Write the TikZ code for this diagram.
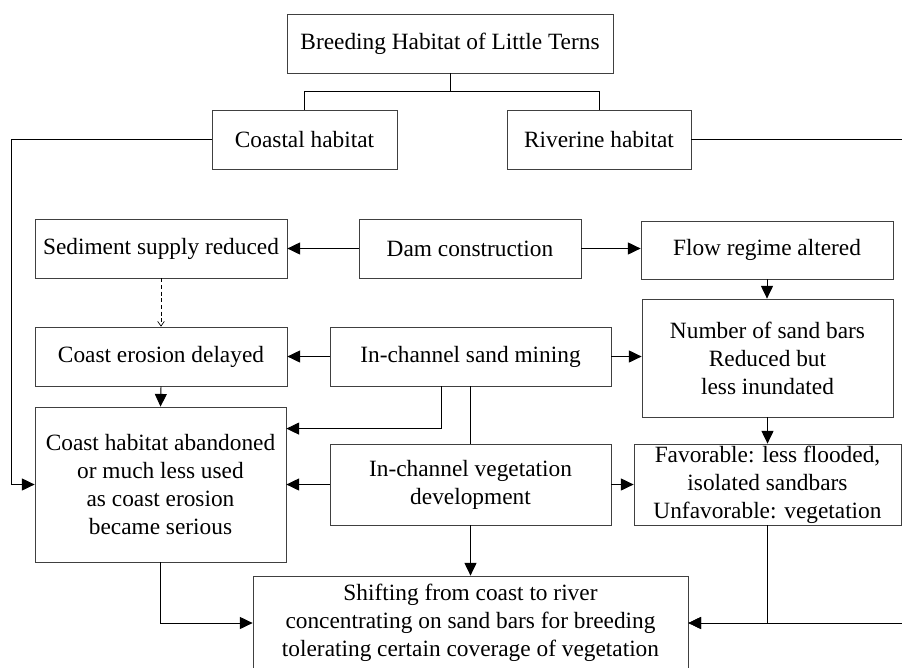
\documentclass[tikz,border=0pt]{standalone}
\usepackage{fontspec}
\setmainfont{Liberation Serif}
\usetikzlibrary{calc,arrows.meta}

\tikzset{
  box/.style 2 args={draw=black!75, line width=0.6pt, rectangle, align=center, inner sep=0pt,
    minimum width=#1*0.75pt, minimum height=#2*0.75pt},
  arr/.style={-{Triangle[length=9.5pt, width=9pt]}, line width=0.7pt},
  dasharr/.style={-{Straight Barb[length=3.5pt, width=5pt]}, dash pattern=on 3pt off 2pt, line width=0.5pt}
}

\begin{document}
\begin{tikzpicture}[x=0.75pt, y=-0.75pt, font={\fontsize{17.5pt}{21pt}\selectfont}]
      \useasboundingbox (0,0) rectangle (902,667);

      \node [box={326}{59}] (title) at (450,43.5) {Breeding Habitat of Little Terns};
      \node [box={185}{59}] (coastal) at (304.5,139.5) {Coastal habitat};
      \node [box={184}{59}] (riverine) at (599,139.5) {Riverine habitat};

      \node [box={252}{59}] (sediment) at (161,248.5) {Sediment supply reduced};
      \node [box={222}{59}] (dam) at (470,248.5) {Dam construction};
      \node [box={252}{58}] (flow) at (767,250) {Flow regime altered};

      \node [box={252}{59}] (erosion) at (161,356.5) {Coast erosion delayed};
      \node [box={281}{59}] (mining) at (470.5,356.5) {In-channel sand mining};
      \node [box={251}{118}] (sandbars) at (767.5,358) {Number of sand bars\\Reduced but\\less inundated};

      \node [box={251}{155}] (abandoned) at (160.5,484.5) {Coast habitat abandoned\\or much less used\\as coast erosion\\became serious};
      \node [box={281}{81}] (vegetation) at (470.5,484.5) {In-channel vegetation\\development};
      \node [box={267}{81}] (favorable) at (767.5,484.5) {Favorable: less flooded,\\isolated sandbars\\Unfavorable: vegetation};

      \node [box={435}{94}] (shifting) at (470.5,623) {Shifting from coast to river\\concentrating on sand bars for breeding\\tolerating certain coverage of vegetation};

      \draw [line width=0.7pt] (title.south) -- ++(0,18) -| (coastal.north);
      \draw [line width=0.7pt] (title.south) -- ++(0,18) -| (riverine.north);
      \draw [arr] (coastal.west) -- ++(-200,0) |- (abandoned.west);
      \draw [arr] (riverine.east) -- ++(225,0) |- (shifting.east);

      \draw [arr] (dam.west) -- (sediment.east);
      \draw [arr] (dam.east) -- (dam.east -| flow.west);
      \draw [dasharr] (sediment.south) -- (erosion.north);
      \draw [arr] (flow.south) -- (flow.south |- sandbars.north);

      \draw [arr] (mining.west) -- (erosion.east);
      \draw [arr] (mining.east) -- (mining.east -| sandbars.west);
      \draw [arr] (erosion.south) -- (abandoned.north);
      \draw [arr] ($(mining.south)+(-29.5,0)$) |- ($(abandoned.north east)+(0,22)$);
      \draw [line width=0.7pt] (mining.south) -- (vegetation.north);
      \draw [arr] (sandbars.south) -- (sandbars.south |- favorable.north);

      \draw [arr] (vegetation.west) -- (abandoned.east);
      \draw [arr] (vegetation.east) -- (favorable.west);
      \draw [arr] (vegetation.south) -- (shifting.north);
      \draw [arr] (abandoned.south) |- (shifting.west);
      \draw [arr] (favorable.south) |- (shifting.east);
    \end{tikzpicture}
\end{document}
